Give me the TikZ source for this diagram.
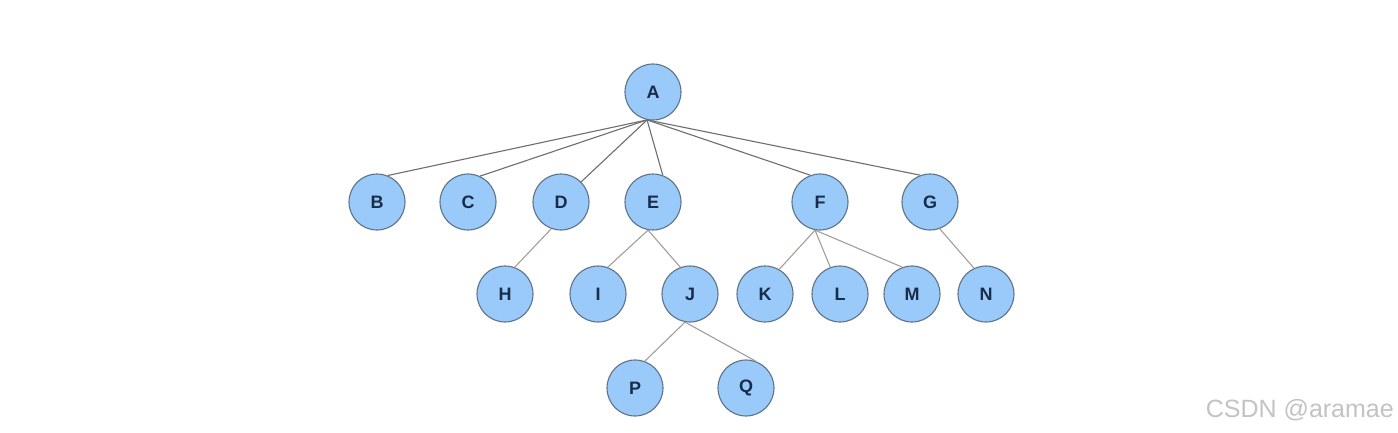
\documentclass[tikz,border=0pt]{standalone}
\usepackage{fontspec}
\setmainfont{Liberation Sans}
\definecolor{nodefill}{RGB}{153,202,250}
\definecolor{nodeline}{RGB}{95,115,135}
\definecolor{nodetext}{RGB}{25,45,75}
\definecolor{edgetop}{RGB}{110,110,110}
\definecolor{edgelow}{RGB}{165,158,150}
\definecolor{wm}{RGB}{195,195,195}
\tikzset{
  treenode/.style={circle, draw=nodeline, fill=nodefill, line width=1.1pt, minimum size=56pt, inner sep=0pt, text=nodetext, font=\fontsize{18}{18}\selectfont\bfseries},
  edgeA/.style={draw=edgetop, line width=1.1pt},
  edgeB/.style={draw=edgelow, line width=1.1pt}
}
\begin{document}
\begin{tikzpicture}[x=1pt,y=-1pt]
\useasboundingbox (0,0) rectangle (1398,432);
\fill[white] (0,0) rectangle (1398,432);
% nodes
\node[treenode] (A) at (653,92) {A};
\node[treenode] (B) at (377,202) {B};
\node[treenode] (C) at (468,202) {C};
\node[treenode] (D) at (561,202) {D};
\node[treenode] (E) at (653,202) {E};
\node[treenode] (F) at (820,202) {F};
\node[treenode] (G) at (930,202) {G};
\node[treenode] (H) at (505,294) {H};
\node[treenode] (I) at (598,294) {I};
\node[treenode] (J) at (690,294) {J};
\node[treenode] (K) at (765,294) {K};
\node[treenode] (L) at (840,294) {L};
\node[treenode] (M) at (912,294) {M};
\node[treenode] (N) at (986,294) {N};
\node[treenode] (P) at (635,388) {P};
\node[treenode] (Q) at (746,388) {Q};
% edges
\draw[edgeA] (A.258) -- (B.68);
\draw[edgeA] (A.258) -- (C.65);
\draw[edgeA] (A.258) -- (D.45);
\draw[edgeA] (A.258) -- (E.70);
\draw[edgeA] (A.258) -- (F.110);
\draw[edgeA] (A.258) -- (G.110);
\draw[edgeB] (D.250) -- (H.70);
\draw[edgeB] (E.260) -- (I.70);
\draw[edgeB] (E.260) -- (J.110);
\draw[edgeB] (F.260) -- (K.60);
\draw[edgeB] (F.260) -- (L.110);
\draw[edgeB] (F.260) -- (M.110);
\draw[edgeB] (G.290) -- (N.115);
\draw[edgeB] (J.260) -- (P.70);
\draw[edgeB] (J.260) -- (Q.70);
% watermark
\node[anchor=east, text=wm, font=\fontsize{25}{25}\selectfont, inner sep=0pt] (wmk) at (1394,410) {CSDN @aramae};
\end{tikzpicture}
\end{document}
